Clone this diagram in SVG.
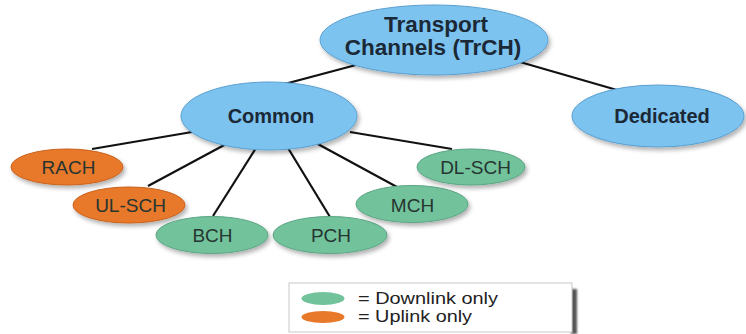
<svg xmlns="http://www.w3.org/2000/svg" width="746" height="334" viewBox="0 0 746 334">
  <defs>
    <filter id="shadow" x="-20%" y="-20%" width="150%" height="160%">
      <feDropShadow dx="2" dy="3" stdDeviation="2" flood-color="#000" flood-opacity="0.3"/>
    </filter>
    <filter id="soft" x="-50%" y="-10%" width="200%" height="120%">
      <feGaussianBlur stdDeviation="1"/>
    </filter>
  </defs>
  <style>
    .blue { fill: #7cc3f0; stroke: #5a9fd0; stroke-width: 1; filter: url(#shadow); }
    .green { fill: #72c29c; stroke: #5aa584; stroke-width: 1; filter: url(#shadow); }
    .orange { fill: #e8782a; stroke: #c9621c; stroke-width: 1; filter: url(#shadow); }
    .title { font-family: "Liberation Sans", Arial, sans-serif; font-weight: bold; font-size: 20px; fill: #1b2836; text-anchor: middle; }
    .label { font-family: "Liberation Sans", Arial, sans-serif; font-size: 19px; fill: #263530; text-anchor: middle; }
    .legend { font-family: "Liberation Sans", Arial, sans-serif; font-size: 16px; fill: #222; }
    .edge { stroke: #111; stroke-width: 2.2; fill: none; }
  </style>

  <!-- tree connectors -->
  <g id="connectors">
    <line class="edge" x1="356" y1="65" x2="243" y2="95"/>
    <line class="edge" x1="520" y1="62" x2="617" y2="90"/>
    <line class="edge" x1="192" y1="132" x2="92" y2="149"/>
    <line class="edge" x1="228" y1="143" x2="148" y2="186"/>
    <line class="edge" x1="256" y1="148" x2="213" y2="216"/>
    <line class="edge" x1="288" y1="148" x2="330" y2="217"/>
    <line class="edge" x1="316" y1="143" x2="397" y2="187"/>
    <line class="edge" x1="350" y1="132" x2="452" y2="149"/>
  </g>

  <g id="trch">
    <ellipse class="blue" cx="434" cy="40" rx="114" ry="35"/>
    <text class="title" x="436" y="32" style="font-size:22.5px">Transport</text>
    <text class="title" x="433" y="55" style="font-size:22.5px">Channels (TrCH)</text>
  </g>

  <g id="common">
    <ellipse class="blue" cx="269" cy="116" rx="88" ry="34"/>
    <text class="title" x="271" y="123">Common</text>
  </g>

  <g id="dedicated">
    <ellipse class="blue" cx="658" cy="116" rx="86" ry="31"/>
    <text class="title" x="662" y="123">Dedicated</text>
  </g>

  <g id="rach">
    <ellipse class="orange" cx="67" cy="167" rx="56" ry="18"/>
    <text class="label" x="68.5" y="174">RACH</text>
  </g>

  <g id="ul-sch">
    <ellipse class="orange" cx="129" cy="205" rx="56" ry="18"/>
    <text class="label" x="130.5" y="212">UL-SCH</text>
  </g>

  <g id="bch">
    <ellipse class="green" cx="212" cy="235" rx="56" ry="18.5"/>
    <text class="label" x="212.5" y="242">BCH</text>
  </g>

  <g id="pch">
    <ellipse class="green" cx="330" cy="235" rx="57" ry="18.5"/>
    <text class="label" x="331" y="242">PCH</text>
  </g>

  <g id="mch">
    <ellipse class="green" cx="412" cy="204" rx="56" ry="18.5"/>
    <text class="label" x="412.5" y="212">MCH</text>
  </g>

  <g id="dl-sch">
    <ellipse class="green" cx="471" cy="167" rx="54" ry="18"/>
    <text class="label" x="475.5" y="174">DL-SCH</text>
  </g>

  <!-- key -->
  <g id="legend">
    <rect x="571" y="289" width="6" height="45" fill="#555" filter="url(#soft)"/>
    <rect x="289" y="283" width="283" height="49" fill="#fff" stroke="#c8c8c8" stroke-width="1"/>
    <ellipse cx="323" cy="298.5" rx="21.5" ry="6.5" fill="#72c29c"/>
    <ellipse cx="323" cy="317" rx="21.5" ry="6" fill="#e8782a"/>
    <text class="legend" x="358" y="304" textLength="140" lengthAdjust="spacingAndGlyphs">= Downlink only</text>
    <text class="legend" x="358" y="322" textLength="114" lengthAdjust="spacingAndGlyphs">= Uplink only</text>
  </g>
</svg>
